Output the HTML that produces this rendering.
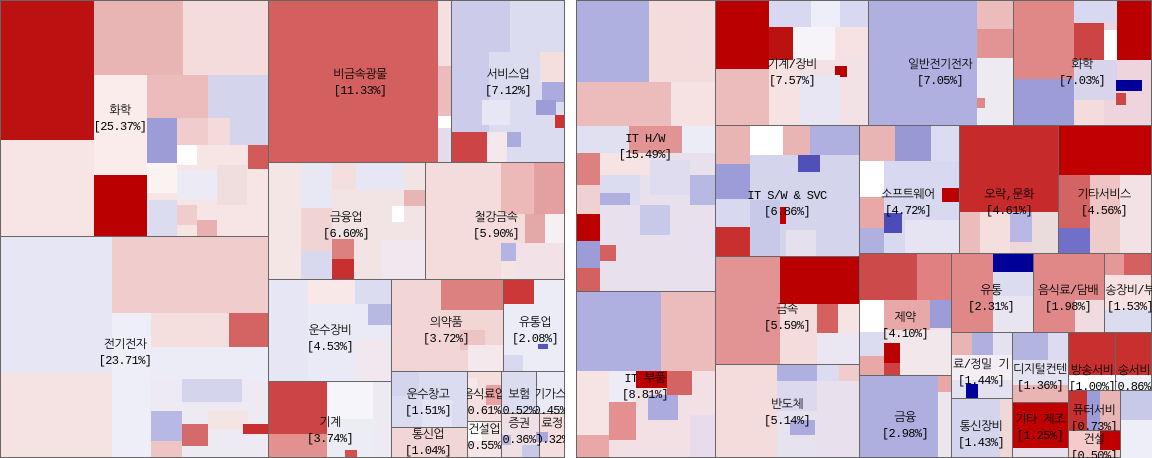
<!DOCTYPE html>
<html><head><meta charset="utf-8">
<style>
html,body{margin:0;padding:0;background:#fff;}
#root{position:relative;width:1152px;height:458px;overflow:hidden;background:#fff;}
.t{position:absolute;box-sizing:border-box;}
.s{position:absolute;box-sizing:border-box;border:1px solid #666;}
.lb{position:absolute;font-family:"Liberation Mono","NanumGothic","Noto Sans CJK KR",monospace;font-size:12px;letter-spacing:-0.6px;line-height:16px;color:#000;text-align:center;white-space:nowrap;transform:translate(-50%,-50%);}
</style></head>
<body>
<div id="root"></div>
<script>
// sector names and percentage values
const sectorNames = ["화학","전기전자","비금속광물","서비스업","금융업","철강금속","운수장비","기계","의약품","유통업","운수창고","통신업","음식료업","건설업","보험","기가스","증권","료정",
"IT H/W","IT 부품","기계/장비","일반전기전자","화학","IT S/W & SVC","소프트웨어","오락,문화","기타서비스","금속","반도체","제약","금융","유통","음식료/담배","송장비/부","료/정밀 기","통신장비","디지털컨텐","기타 제조","방송서비","송서비","퓨터서비","건설"];
const sectorValues = [25.37,23.71,11.33,7.12,6.60,5.90,4.53,3.74,3.72,2.08,1.51,1.04,0.61,0.55,0.52,0.45,0.36,0.32,
15.49,8.81,7.57,7.05,7.03,6.86,4.72,4.61,4.56,5.59,5.14,4.10,2.98,2.31,1.98,1.53,1.44,1.43,1.36,1.25,1.00,0.86,0.73,0.50];
// layout boxes (x,y,w,h) and base colour
const sectorBoxes = [
[0,0,269,237,"#f7e4e4"],[0,236,269,222,"#eeeaf4"],[268,0,184,163,"#d45f5f"],[451,0,114,163,"#dcdcf0"],
[268,162,158,118,"#f2e4e4"],[425,162,140,118,"#f4dcdc"],[268,279,124,103,"#eaeaf6"],[268,381,124,77,"#eeeaf2"],
[391,279,113,93,"#f2d6d6"],[503,279,62,93,"#ececf6"],[391,371,77,57,"#dcdcf0"],[391,427,77,31,"#f2d6d6"],
[467,371,35,51,"#f4dede"],[467,421,35,37,"#f4e6e6"],[501,371,36,43,"#dcdcf0"],[536,371,29,43,"#eaeaf6"],[501,413,39,45,"#f0e0e6"],[539,413,26,45,"#f4dede"],
[576,0,140,292,"#e8e0ec"],[576,291,140,167,"#f2e0e4"],[715,0,154,126,"#f2e2e6"],[868,0,146,126,"#b0b0e0"],[1013,0,139,126,"#eed4dc"],
[715,125,145,132,"#d4d4ec"],[859,125,101,129,"#d8d8f0"],[959,125,100,129,"#eed6da"],[1058,125,94,129,"#eecccc"],
[715,256,145,109,"#f0dcdc"],[715,364,145,94,"#e6e2f0"],[859,253,93,123,"#f0e2e6"],[859,375,93,83,"#aeaedf"],
[951,253,83,80,"#e8b8bc"],[1033,253,72,80,"#e08888"],[1104,253,48,80,"#f0e0e6"],[951,332,62,67,"#e4e2f0"],[951,398,62,60,"#d4d4ec"],
[1012,332,57,71,"#e4e2f0"],[1012,402,57,56,"#c00000"],[1068,332,48,59,"#c83030"],[1115,332,37,59,"#c83030"],[1068,390,53,41,"#e8b4b4"],[1068,430,53,28,"#f4caca"]
];
// detail tiles (x,y,w,h,colour)
const tiles = [
[0,0,94,140,"#bb1111"],[94,0,89,75,"#e8b4b4"],[183,0,85,75,"#f4dcdc"],[94,75,53,100,"#faeceb"],[94,175,53,61,"#bb0000"],[147,75,61,43,"#ecbcbc"],[208,75,60,70,"#d4d4ec"],[147,118,30,45,"#9c9cd8"],[177,118,31,27,"#f0cccc"],[208,118,22,27,"#f4dada"],[248,145,20,24,"#d35a5a"],[177,145,20,20,"#ffffff"],[147,163,30,30,"#fbf2f2"],[147,200,30,36,"#dcdcf0"],[177,170,40,30,"#eceaf4"],[217,165,30,40,"#f0dede"],[177,205,20,20,"#f0cccc"],[197,220,20,16,"#e8b0b0"],
[0,236,112,137,"#e6e6f4"],[112,236,156,77,"#f0cccc"],[0,373,112,85,"#f5e2e2"],[112,313,39,145,"#eeeef8"],[151,313,78,34,"#f4dede"],[229,313,39,34,"#d46464"],[151,347,117,32,"#ececf6"],[182,379,60,23,"#d4d4ec"],[151,411,31,30,"#b8b8e4"],[182,424,26,22,"#d46a6a"],[151,441,31,17,"#eec4c4"],[208,410,40,20,"#f4e4e4"],[243,424,25,10,"#c83030"],
[438,0,13,66,"#f4e0e0"],[438,66,13,50,"#ecbcbc"],[438,116,13,12,"#ffffff"],[438,128,13,34,"#e4dcec"],
[451,0,59,52,"#ccccea"],[510,0,54,52,"#dcdcf0"],[451,52,38,80,"#ccccea"],[540,52,24,30,"#f4dede"],[542,82,22,20,"#ababdf"],[482,100,28,25,"#e6e6f4"],[501,132,20,15,"#ababdf"],[536,100,20,15,"#9c9cd8"],[555,115,9,13,"#cc3333"],[451,132,36,30,"#cc4444"],[487,132,20,30,"#f4e8ec"],
[269,162,32,117,"#f5e6e6"],[301,162,31,46,"#e8e8f4"],[301,208,31,43,"#f0d4d4"],[301,251,31,28,"#d8d8ee"],[332,162,24,28,"#f4dede"],[332,239,22,20,"#dc8080"],[332,259,22,20,"#c83030"],[404,190,21,16,"#e8b4b4"],[356,162,48,28,"#e6e6f4"],[392,206,12,16,"#ffffff"],[382,240,43,39,"#f0e8ee"],
[501,162,33,52,"#ecb8b8"],[534,162,30,52,"#e4a0a0"],[525,214,20,29,"#e4a8a8"],[501,243,15,18,"#b4b4e4"],[545,214,19,30,"#f6f0f4"],[516,243,48,36,"#f2e2e8"],[501,261,15,18,"#f4e4e4"],
[308,279,47,25,"#f8e8e8"],[355,279,36,25,"#dcdcf0"],[368,304,23,21,"#b8b8e4"],[269,279,39,102,"#e6e6f4"],[355,340,36,40,"#f0e8ee"],
[269,381,58,53,"#cc4444"],[269,434,58,24,"#e29090"],[327,381,46,38,"#f6f6fa"],[327,419,46,39,"#ececf4"],[345,450,12,8,"#d45050"],
[441,279,62,31,"#dc8080"],[391,279,50,92,"#f2d6d6"],[460,330,25,20,"#ecc4c4"],[468,345,35,26,"#f4e8ec"],
[503,279,31,25,"#cc3838"],[534,279,30,25,"#ececf6"],[538,344,10,5,"#5555c0"],[503,355,20,16,"#d8d8f0"],
[391,371,28,25,"#d4d4ec"],[422,400,30,27,"#e4e4f4"],[467,378,10,20,"#f4e8e8"],[486,385,16,20,"#e8a0a0"],[467,421,15,20,"#ffffff"],[501,435,10,10,"#b8b8e4"],[536,432,12,10,"#a8a8dc"],[522,445,18,13,"#c8c8e8"],
[576,0,73,82,"#b0b0e0"],[649,0,67,82,"#f4dcdc"],[576,82,95,44,"#ecbcbc"],[671,82,45,44,"#f6e2e2"],[576,126,53,27,"#e0e0f0"],[629,126,53,27,"#e29494"],[682,126,34,27,"#ececf6"],[576,153,24,32,"#dc8080"],[600,153,50,22,"#f6e4e4"],[600,175,40,30,"#dcdcf0"],[576,185,24,29,"#f0d0d0"],[576,214,24,27,"#bb0000"],[576,241,24,27,"#9c9cd8"],[600,245,16,16,"#d46060"],[576,268,24,23,"#d46060"],[600,193,30,12,"#b0b0e0"],[650,160,40,35,"#e0dcef"],[690,175,26,30,"#b8b8e4"],[640,205,30,30,"#c8c8e8"],
[576,291,85,80,"#b0b0e0"],[661,291,55,80,"#ecbcbc"],[576,371,33,87,"#f6e4e4"],[636,371,31,17,"#bb0000"],[667,371,25,24,"#d46464"],[609,402,27,38,"#e29090"],[576,435,33,23,"#e8a8a8"],[609,371,27,31,"#ecebf6"],[648,395,30,25,"#ababdf"],[636,420,35,38,"#f2e0e4"],[690,415,26,43,"#e8dcec"],
[716,0,53,69,"#bb0000"],[769,27,24,33,"#bb1111"],[769,0,42,27,"#d8d8f0"],[811,0,29,27,"#eeeef8"],[840,0,28,27,"#d8d8f0"],[716,69,53,57,"#ecbcbc"],[793,27,42,33,"#f6f4f8"],[835,27,33,30,"#f6e2e2"],[835,66,12,11,"#bb0000"],[769,60,30,66,"#f6e2e2"],[800,75,40,50,"#e8e6f2"],
[977,0,36,29,"#ecbcbc"],[977,29,36,29,"#e29494"],[977,58,36,67,"#eeeaf2"],[977,98,8,10,"#e08888"],
[1013,0,61,79,"#e08888"],[1013,79,61,47,"#9c9cd8"],[1074,23,30,37,"#cc4444"],[1117,0,35,60,"#bb0000"],[1074,0,43,23,"#d8d8f0"],[1074,60,43,40,"#d8d4ec"],[1116,80,26,11,"#000099"],[1104,30,13,30,"#ffffff"],[1074,100,30,25,"#f4dcdc"],[1116,93,10,12,"#cc4444"],
[716,125,34,39,"#e8b4b4"],[716,164,34,35,"#9c9cd8"],[716,199,34,28,"#d8d8f0"],[716,227,34,29,"#c83030"],[750,125,33,30,"#ffffff"],[783,125,27,30,"#e8b4b4"],[810,125,49,30,"#b0b0e0"],[798,155,22,17,"#5050b8"],[774,207,12,17,"#c00000"],[750,200,30,56,"#c8c8e8"],[820,172,39,20,"#d4d4ec"],[786,230,30,26,"#e4e0ee"],
[859,125,36,36,"#e8b4b4"],[895,125,36,36,"#9898d4"],[931,125,28,36,"#dcdcf0"],[859,161,25,36,"#ffffff"],[859,197,25,31,"#e8a8a8"],[859,228,25,25,"#b0b0e0"],[884,213,18,20,"#4c4cb8"],[942,188,17,14,"#bb0000"],[905,220,54,33,"#e6e4f2"],
[959,125,100,87,"#c62a2a"],[959,212,21,41,"#ecbcbc"],[980,212,30,41,"#f4dede"],[1010,212,22,30,"#b8b8e4"],[1032,212,27,41,"#eadcdc"],
[1058,125,94,50,"#c00000"],[1058,175,32,53,"#d46464"],[1058,228,32,25,"#7070c8"],[1090,175,30,40,"#eec4c4"],[1120,175,32,78,"#f2e2e6"],
[716,256,64,108,"#e29494"],[780,256,79,48,"#bb0000"],[780,304,37,60,"#f4dcdc"],[817,304,21,29,"#d46060"],[838,304,21,29,"#f6e4e4"],[817,333,42,31,"#eae6f2"],
[716,364,61,94,"#f4dcdc"],[777,364,40,17,"#b0b0e0"],[817,364,22,17,"#dcdcf0"],[839,364,20,17,"#f0cccc"],[777,381,40,30,"#dcd8ee"],[817,381,42,77,"#e8e0ec"],[790,420,25,15,"#ababdf"],
[859,253,58,47,"#cc4a4a"],[917,253,34,47,"#e08080"],[859,300,25,32,"#ffffff"],[884,300,46,30,"#e8a8a8"],[930,300,21,28,"#9c9cd8"],[859,332,25,24,"#dcdcf0"],[884,343,16,20,"#bb0000"],[859,356,25,19,"#e8a8a8"],[884,363,16,12,"#d04040"],[900,330,51,45,"#f2e8ec"],
[938,375,13,17,"#e8a8a8"],[938,392,13,66,"#eee6ee"],
[951,253,42,79,"#e08888"],[993,253,40,19,"#000099"],[993,272,40,24,"#dcdcf0"],[993,296,40,36,"#e8e4f0"],
[1075,300,29,33,"#f0dce0"],
[1104,253,20,22,"#e49898"],[1124,253,28,22,"#d46060"],[1104,275,48,35,"#f6e2e2"],[1104,310,48,23,"#dcdcf0"],
[951,332,21,23,"#e8b4b4"],[972,332,21,23,"#b0b0e0"],[966,384,12,14,"#000099"],[951,355,61,25,"#f4eef4"],
[1000,398,12,60,"#f0d8d8"],
[1012,332,36,28,"#b4b4e0"],[1048,332,20,28,"#dcdcf0"],[1012,385,56,17,"#e8b4b4"],
[1012,448,56,10,"#e8e0ec"],
[1068,375,47,15,"#ffffff"],[1115,375,37,15,"#f0f0f8"],
[1068,390,19,40,"#c83030"],[1087,390,13,40,"#9c9cd8"],[1120,390,32,30,"#c8c8e8"],[1100,430,20,20,"#c00000"],[1120,420,32,38,"#eeeef8"]
];
// label anchor (cx,cy) per sector
const labelPos = [
[120,119],[125,353],[360,83],[508,83],[346,226],[496,226],[330,339],[330,431],[446,331],[535,331],[428,403],[428,443],[484,403],[484,438],[519,403],[550,403],[519,432],[552,432],
[645,147],[645,387],[792,73],[940,73],[1082,73],[787,204],[908,203],[1009,203],[1104,203],[787,318],[787,413],[905,326],[905,426],[991,299],[1068,299],[1130,299],[981,373],[981,435],[1040,378],[1040,428],[1092,379],[1134,379],[1094,419],[1094,448]
];
const root = document.getElementById('root');
sectorBoxes.forEach((b,i)=>{
  const d=document.createElement('div');
  d.className='t';
  
  
  d.style.cssText=`left:${b[0]}px;top:${b[1]}px;width:${b[2]}px;height:${b[3]}px;background:${b[4]}`;
  root.appendChild(d);
});
tiles.forEach((t,i)=>{
  const d=document.createElement('div');
  d.className='t';
  
  
  d.style.cssText=`left:${t[0]}px;top:${t[1]}px;width:${t[2]}px;height:${t[3]}px;background:${t[4]}`;
  root.appendChild(d);
});
sectorBoxes.forEach((b,i)=>{
  const d=document.createElement('div');
  d.className='s';
  
  
  d.style.cssText=`left:${b[0]}px;top:${b[1]}px;width:${b[2]}px;height:${b[3]}px`;
  root.appendChild(d);
});
sectorNames.forEach((n,i)=>{
  const b=sectorBoxes[i];
  const clip=document.createElement('div');
  clip.style.cssText=`position:absolute;left:${b[0]}px;top:${b[1]}px;width:${b[2]}px;height:${b[3]}px;overflow:hidden`;
  
  
  const l=document.createElement('div');
  l.className='lb';
  
  
  l.style.left=(labelPos[i][0]-b[0])+'px';
  l.style.top=(labelPos[i][1]-b[1])+'px';
  l.innerHTML=n+'<br>['+sectorValues[i].toFixed(2)+'%]';
  clip.appendChild(l);
  root.appendChild(clip);
});
const gap=document.createElement('div');


gap.style.cssText='position:absolute;left:565px;top:0;width:11px;height:458px;background:#fff';
root.appendChild(gap);
</script>
</body></html>
